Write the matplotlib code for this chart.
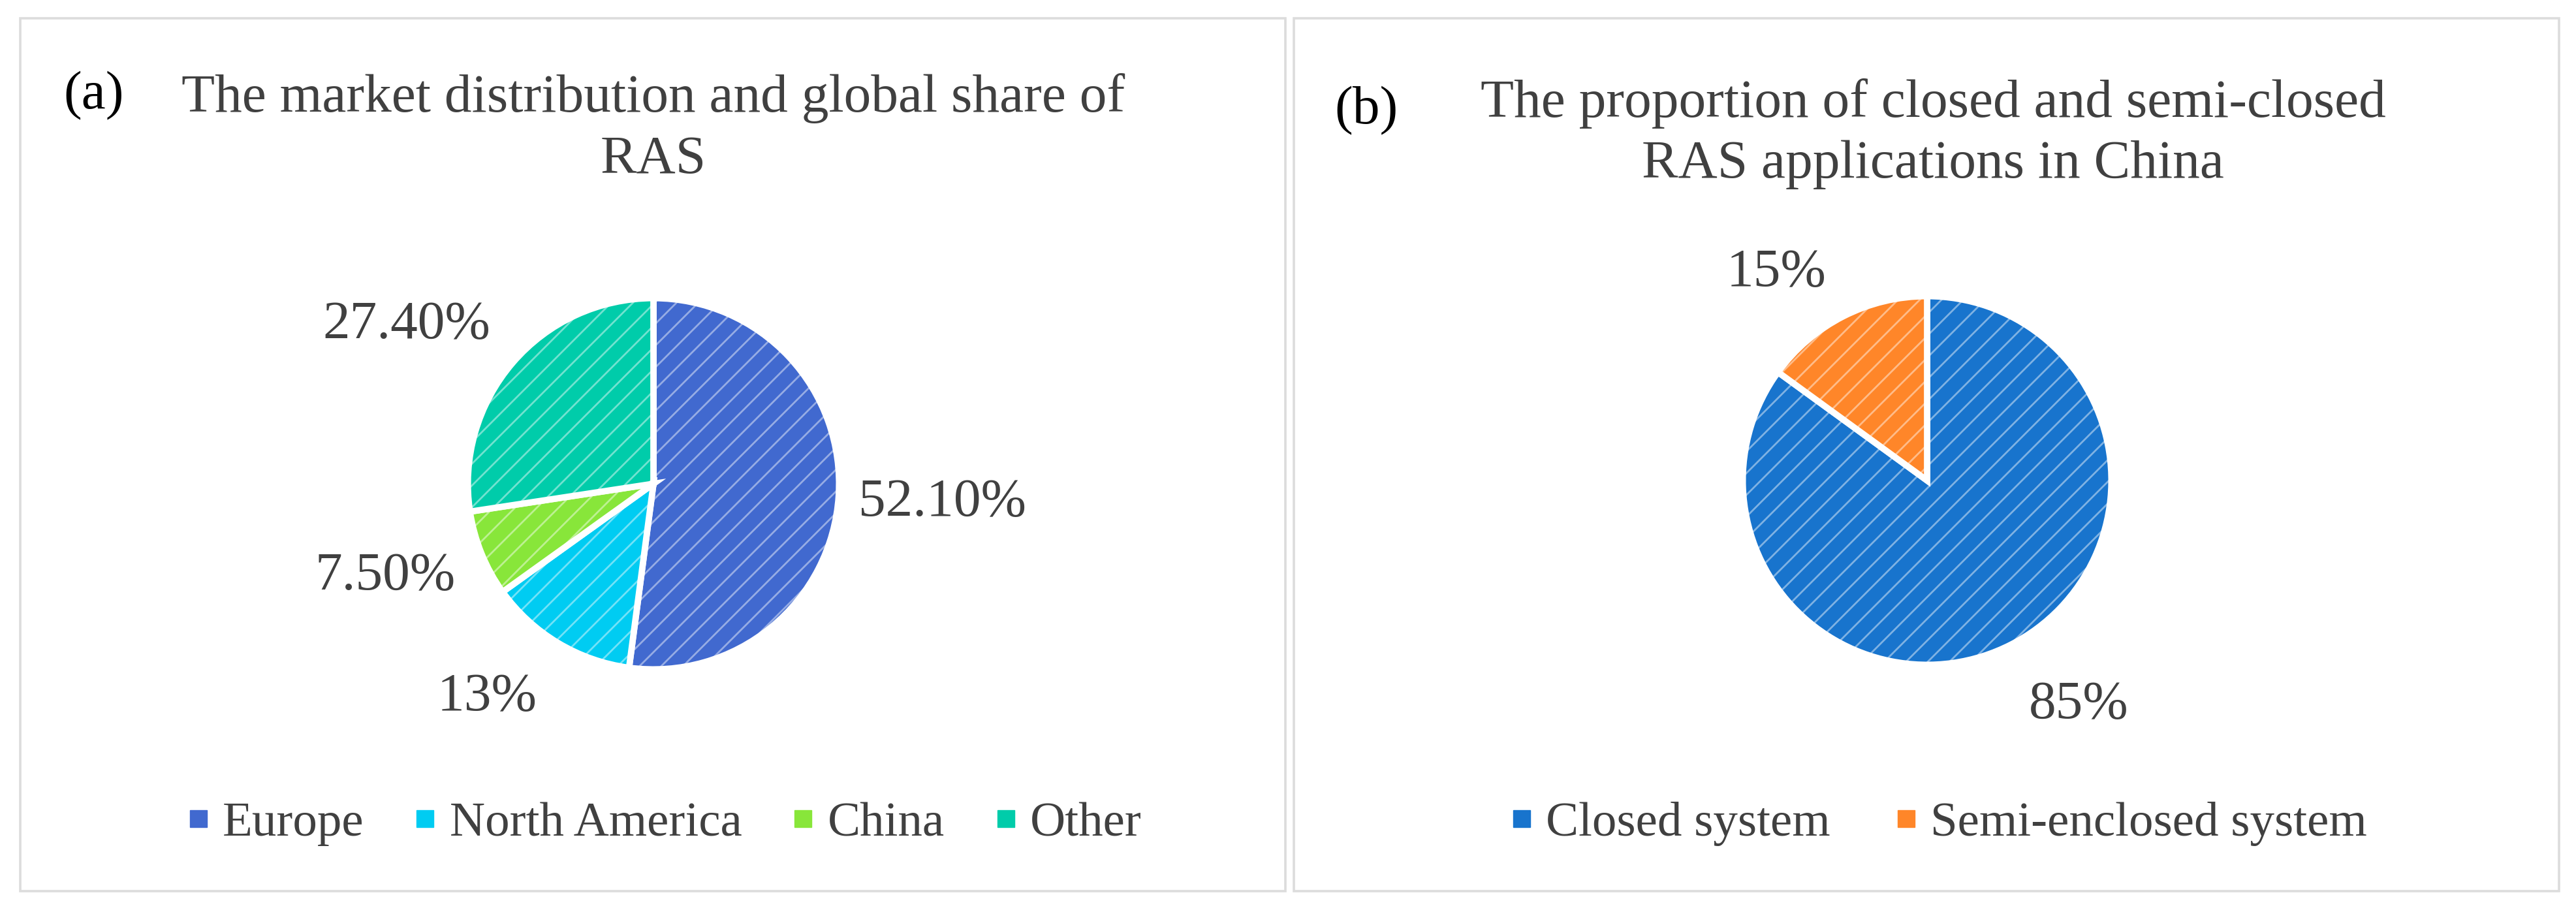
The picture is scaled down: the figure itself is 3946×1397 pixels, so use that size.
#!/usr/bin/python3
# -*- coding: utf-8 -*-
from matplotlib import pyplot as plt
from matplotlib.patches import Rectangle, Wedge
from matplotlib.lines import Line2D
import numpy

plt.rcParams['font.family'] = ['Liberation Serif', 'DejaVu Serif']
plt.rcParams['hatch.linewidth'] = 2.0

# ---- data ----
market_labels = ['Europe', 'North America', 'China', 'Other']
market_share = [52.1, 13.0, 7.5, 27.4]
market_text = ['52.10%', '13%', '7.50%', '27.40%']
market_colors = ['#4169CF', '#00CCF2', '#88E63A', '#00CCAA']

system_labels = ['Closed system', 'Semi-enclosed system']
system_share = [85, 15]
system_text = ['85%', '15%']
system_colors = ['#1874CD', '#FF8629']

title_a = 'The market distribution and global share of\nRAS'
title_b = 'The proportion of closed and semi-closed\nRAS applications in China'

W, H = 3946, 1397
DPI = 100
TXT = '#404040'
FS = 60

fig = plt.figure(figsize=(W / DPI, H / DPI), dpi=DPI)


def fx(px):
	return px / W


def fy(py):
	return 1 - py / H


def panel(x0, y0, x1, y1):
	fig.patches.append(Rectangle((fx(x0), fy(y1)), fx(x1 - x0), (y1 - y0) / H,
		transform=fig.transFigure, facecolor='none', edgecolor='#DCDCDC', lw=2.6, zorder=0))


def title(cx, baselines, txt):
	for yb, line in zip(baselines, txt.split('\n')):
		fig.text(fx(cx), fy(yb), line, ha='center', va='baseline', fontsize=FS, color=TXT)


def draw_pie(cx, cy, R, values, colors, texts, dists, offs):
	ax = fig.add_axes([fx(cx - R), fy(cy + R), 2 * R / W, 2 * R / H])
	wedges, _ = ax.pie(values, colors=colors, startangle=90, counterclock=False,
		wedgeprops=dict(edgecolor='white', linewidth=7))
	for w in wedges:
		# sketchy streaks
		ax.add_patch(Wedge(w.center, w.r, w.theta1, w.theta2, facecolor='none',
			edgecolor=(1, 1, 1, 0.45), linewidth=0, hatch='/'))
	for w, t, d, o in zip(wedges, texts, dists, offs):
		ang = numpy.deg2rad((w.theta1 + w.theta2) / 2.0 + o)
		ax.text(d * numpy.cos(ang), d * numpy.sin(ang), t, ha='center', va='center',
			fontsize=FS, color=TXT)
	ax.set_xlim(-1.02, 1.02)
	ax.set_ylim(-1.02, 1.02)
	ax.axis('off')
	return ax


def legend(cx, labels, colors, colsp):
	handles = [Line2D([], [], marker='s', linestyle='none', markersize=19,
		markerfacecolor=c, markeredgecolor=c) for c in colors]
	fig.legend(handles, labels, loc='center', bbox_to_anchor=(fx(cx), fy(1262)),
		ncol=len(labels), frameon=False, fontsize=54, handlelength=0.5,
		handletextpad=0.25, columnspacing=colsp, labelcolor=TXT)


panel(31, 28, 1969, 1365)
panel(1982, 28, 3920, 1365)

# titles
title(1001, [171, 265], title_a)
title(2961, [179, 272], title_b)
fig.text(fx(144), fy(147), '(a)', ha='center', va='center', fontsize=FS, color='black')
fig.text(fx(2093), fy(170), '(b)', ha='center', va='center', fontsize=FS, color='black')

# pies
draw_pie(1001, 741, 290, market_share, market_colors, market_text,
	[1.56, 1.46, 1.53, 1.58], [0, -7, -3, 8])
draw_pie(2952, 736, 288, system_share, system_colors, system_text,
	[1.47, 1.39], [7, 9])

# legends
legend(1017, market_labels, market_colors, 1.0)
legend(2969, system_labels, system_colors, 1.3)

plt.savefig('out.png', dpi=DPI)
